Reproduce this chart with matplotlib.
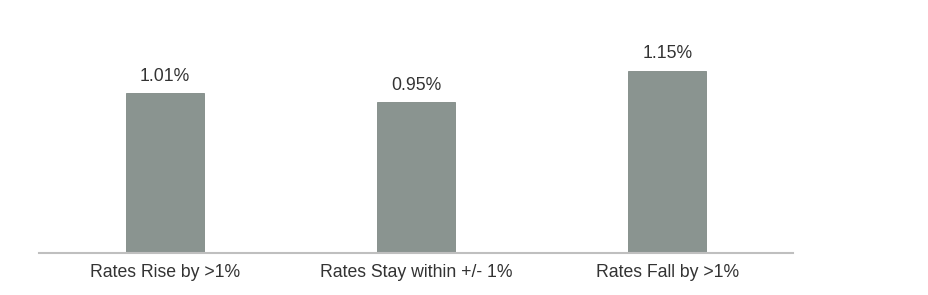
import matplotlib.pyplot as plt

plt.rcParams['font.family'] = ['Liberation Sans', 'DejaVu Sans']

# 데이터
categories = ['Rates Rise by >1%', 'Rates Stay within +/- 1%', 'Rates Fall by >1%']
values = [1.01, 0.95, 1.15]
value_labels = ['1.01%', '0.95%', '1.15%']

fig = plt.figure(figsize=(9.29, 2.95), dpi=100)
ax = fig.add_axes([0.042, 0.1434, 0.8116, 0.751])

x = range(len(categories))
bars = ax.bar(x, values, width=0.31, color='#8A9490', edgecolor='#7f8985', linewidth=0.6)

for bar, lab in zip(bars, value_labels):
    ax.annotate(lab, (bar.get_x() + bar.get_width() / 2, bar.get_height()),
                xytext=(0, 6), textcoords='offset points',
                ha='center', va='bottom', fontsize=12.7, color='#333333')

ax.set_xlim(-0.5, 2.5)
ax.set_ylim(0, 1.4)
ax.set_xticks(list(x))
ax.set_xticklabels(categories, fontsize=12.7, color='#333333')
ax.tick_params(axis='x', length=0, pad=8)
ax.set_yticks([])

for s in ['top', 'right', 'left']:
    ax.spines[s].set_visible(False)
ax.spines['bottom'].set_color('#BFBFBF')
ax.spines['bottom'].set_linewidth(1.5)

fig.savefig('out.png', dpi=100)
